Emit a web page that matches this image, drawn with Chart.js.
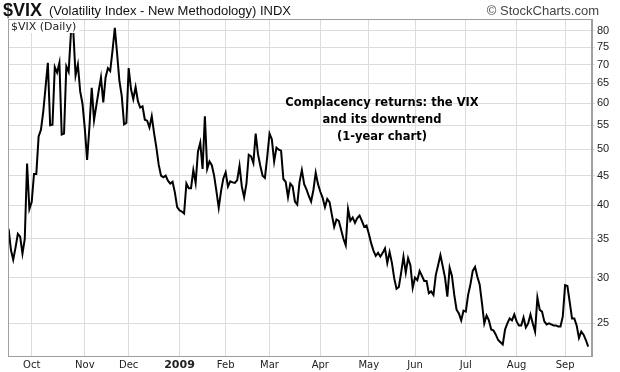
<!DOCTYPE html>
<html>
<head>
<meta charset="utf-8">
<script src="https://cdn.jsdelivr.net/npm/chart.js@4.4.0/dist/chart.umd.min.js"></script>
<style>
  html, body { margin: 0; padding: 0; background: #fff; }
  canvas { display: block; }
</style>
</head>
<body>
<canvas id="vix-chart" width="620" height="372"></canvas>
<script>
// month labels and the trading-day index where each month starts
const monthLabels = ["Oct", "Nov", "Dec", "2009", "Feb", "Mar", "Apr", "May", "Jun", "Jul", "Aug", "Sep"];
const monthStarts = [10, 33, 52, 74, 94, 113, 135, 156, 176, 198, 220, 241];

// right axis (log scale)
const yTicks = [25, 30, 35, 40, 45, 50, 55, 60, 65, 70, 75, 80];

// daily closes, mid Sep 2008 -> mid Sep 2009
const vixClose = [
  36.4, 33.5, 32.2, 33.8, 35.7, 35.3, 33.0, 35.0, 47.2, 39.4,
  40.5, 45.3, 45.3, 52.6, 54.0, 58.0, 63.9, 70.5, 55.0, 55.1,
  69.3, 67.8, 70.5, 53.0, 53.2, 69.5, 68.0, 79.5, 80.3, 67.0,
  70.0, 62.9, 59.9, 54.3, 47.9, 54.6, 63.8, 56.1, 59.5, 63.0,
  66.5, 60.2, 66.5, 69.0, 68.2, 74.0, 81.0, 73.0, 65.5, 61.8,
  55.2, 55.5, 69.0, 63.5, 61.0, 64.0, 60.5, 59.0, 59.3, 56.2,
  56.0, 54.5, 57.0, 53.3, 50.3, 47.0, 45.0, 44.7, 45.0, 44.1,
  43.6, 43.9, 42.1, 39.7, 39.2, 39.0, 38.7, 43.6, 42.8, 42.8,
  46.0, 43.7, 49.5, 51.3, 46.2, 57.0, 46.2, 47.6, 46.9, 45.0,
  42.3, 39.6, 42.3, 44.5, 45.6, 43.1, 44.0, 43.8, 43.7, 44.2,
  46.8, 43.1, 41.3, 43.6, 48.9, 48.6, 47.3, 53.2, 49.0, 46.8,
  45.0, 44.6, 48.5, 53.2, 52.0, 47.6, 50.3, 49.9, 49.7, 44.4,
  43.9, 41.3, 43.6, 43.1, 40.6, 40.1, 43.9, 46.0, 43.5, 42.6,
  41.5, 40.6, 42.5, 45.5, 43.5, 42.2, 41.2, 39.7, 41.0, 40.5,
  38.5, 36.7, 37.8, 37.6, 36.3, 35.0, 34.1, 39.4, 37.6, 38.1,
  37.3, 38.0, 38.4, 37.6, 36.7, 36.9, 35.7, 34.4, 33.4, 32.7,
  33.1, 32.6, 33.1, 33.7, 31.8, 33.2, 31.8, 29.9, 28.7, 28.9,
  30.6, 32.6, 30.6, 32.4, 31.5, 28.8, 30.0, 29.7, 30.8, 30.2,
  29.6, 29.6, 28.2, 28.4, 28.0, 30.3, 31.5, 32.8, 31.4, 30.0,
  27.8, 31.2, 30.2, 28.0, 26.4, 26.0, 25.3, 26.3, 26.2, 28.0,
  29.2, 30.8, 31.3, 30.1, 29.2, 27.1, 25.0, 25.8, 25.3, 24.4,
  24.3, 23.9, 23.4, 23.2, 23.0, 24.4, 25.0, 25.5, 25.3, 25.9,
  25.2, 24.8, 24.8, 25.6, 24.6, 25.0, 25.9, 25.0, 24.2, 27.7,
  26.4, 26.2, 25.2, 24.9, 25.0, 24.9, 24.8, 24.8, 24.7, 24.7,
  25.7, 29.1, 29.0, 27.2, 25.5, 25.5, 24.8, 23.6, 24.2, 23.9,
  23.4, 22.8
];

const noteLines = ["Complacency returns: the VIX", "and its downtrend", "(1-year chart)"];

// header, frame, "$VIX (Daily)" tag and the note
const decorations = {
  id: "decorations",
  afterDraw(chart) {
    const ctx = chart.ctx;
    const area = chart.chartArea;
    ctx.save();

    // plot frame
    ctx.strokeStyle = "#a0a0a0";
    ctx.lineWidth = 1;
    ctx.strokeRect(area.left + 0.5, area.top + 0.5, area.right - area.left - 1, area.bottom - area.top);

    // header
    ctx.fillStyle = "#111";
    ctx.textBaseline = "alphabetic";
    ctx.textAlign = "left";
    ctx.font = "bold 18px 'Liberation Sans', Arial, sans-serif";
    ctx.fillText("$VIX", 3, 16);
    ctx.font = "13px 'Liberation Sans', Arial, sans-serif";
    ctx.fillText("(Volatility Index - New Methodology) INDX", 49, 15);
    ctx.fillStyle = "#444";
    ctx.textAlign = "right";
    ctx.fillText("\u00A9 StockCharts.com", 599, 15);

    // series tag inside the plot
    ctx.textAlign = "left";
    ctx.font = "11px 'DejaVu Sans', sans-serif";
    const tag = "$VIX (Daily)";
    const w = ctx.measureText(tag).width;
    ctx.fillStyle = "#fff";
    ctx.fillRect(area.left + 1, area.top + 1, w + 5, 13);
    ctx.fillStyle = "#222";
    ctx.fillText(tag, area.left + 3, area.top + 11);

    // note
    ctx.fillStyle = "#000";
    ctx.textAlign = "center";
    ctx.font = "bold 11.5px 'DejaVu Sans', sans-serif";
    noteLines.forEach((t, i) => ctx.fillText(t, 382, 106 + i * 17));

    ctx.restore();
  },
};

new Chart(document.getElementById("vix-chart"), {
  type: "line",
  data: {
    datasets: [
      {
        data: vixClose.map((v, i) => ({ x: i, y: v })),
        borderColor: "#000",
        borderWidth: 2,
        pointRadius: 0,
        tension: 0,
        fill: false,
      },
    ],
  },
  options: {
    responsive: false,
    animation: false,
    devicePixelRatio: 1,
    layout: { padding: { left: 8, top: 19, right: 0, bottom: 0 } },
    plugins: {
      legend: { display: false },
      tooltip: { enabled: false },
    },
    scales: {
      x: {
        type: "linear",
        min: -0.26,
        max: 252.65,
        afterBuildTicks: (scale) => {
          scale.ticks = monthStarts.map((v) => ({ value: v }));
        },
        afterFit: (scale) => {
          scale.height = 16;
        },
        ticks: {
          autoSkip: false,
          maxRotation: 0,
          padding: 3,
          color: "#222",
          callback: (value) => monthLabels[monthStarts.indexOf(value)],
          font: (ctx) =>
            ctx.tick && ctx.tick.value === 74
              ? { family: "'DejaVu Sans', sans-serif", size: 11, weight: "bold" }
              : { family: "'DejaVu Sans', sans-serif", size: 10 },
        },
        grid: { color: "#dcdcdc", drawTicks: false },
        border: { color: "#a0a0a0" },
      },
      y: {
        type: "logarithmic",
        position: "right",
        min: 21.96,
        max: 83.9,
        afterBuildTicks: (scale) => {
          scale.ticks = yTicks.map((v) => ({ value: v }));
        },
        afterFit: (scale) => {
          scale.width = 28;
        },
        ticks: {
          padding: 2,
          color: "#222",
          font: { family: "'Liberation Sans', Arial, sans-serif", size: 11 },
          callback: (value) => value,
        },
        grid: { color: "#dcdcdc", tickLength: 3 },
        border: { color: "#a0a0a0" },
      },
    },
  },
  plugins: [decorations],
});
</script>
</body>
</html>
